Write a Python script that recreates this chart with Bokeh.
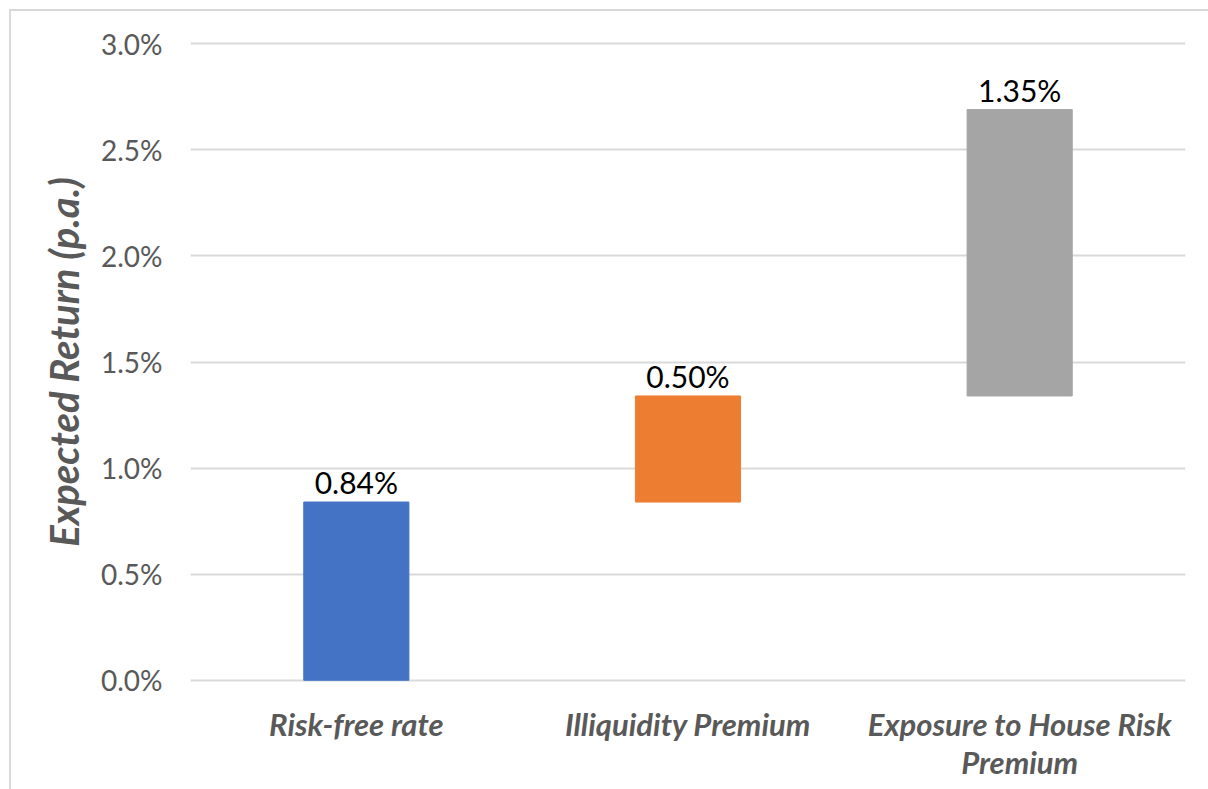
from bokeh.plotting import figure
from bokeh.models import ColumnDataSource, FactorRange, FixedTicker, PrintfTickFormatter
from bokeh.core.properties import value
from bokeh.embed import file_html
from bokeh.resources import INLINE
import numpy as np

# Components of the expected return (percent per annum)
categories = ["Risk-free rate", "Illiquidity Premium",
              "Exposure to House Risk\nPremium"]
values = [0.84, 0.50, 1.35]
labels = ["0.84%", "0.50%", "1.35%"]
colors = ["#4472C4", "#ED7D31", "#A5A5A5"]
y_ticks = [0.0, 0.5, 1.0, 1.5, 2.0, 2.5, 3.0]

# Floating (waterfall) bars: each starts where the previous one ends
tops = np.cumsum(values)
bottoms = tops - np.array(values)

source = ColumnDataSource(dict(cat=categories, bottom=bottoms, top=tops,
                               color=colors, label=labels))

FONT = "Lato"
GREY = "#595959"
BORDER = "#D9D9D9"

# a little room above 3.0% and below 0.0% so both gridlines are drawn fully
p = figure(x_range=FactorRange(*categories), y_range=(-0.02, 3.02),
           width=1208, height=789, output_backend="svg",
           toolbar_location=None, min_border_left=190, min_border_right=23,
           min_border_top=39, min_border_bottom=105)

p.vbar(x="cat", bottom="bottom", top="top", width=0.317, color="color",
       source=source)
p.text(x="cat", y="top", text="label", source=source, text_align="center",
       text_baseline="bottom", y_offset=-2, text_font=value(FONT),
       text_font_size="30px", text_color="#000000")

# Chart border along the left and top edges, painted behind a transparent canvas
p.border_fill_color = None
p.styles = {
    "background-color": "white",
    "background-image": f"linear-gradient({BORDER}, {BORDER}), "
                        f"linear-gradient({BORDER}, {BORDER})",
    "background-size": "2px 100%, 100% 2px",
    "background-position": "9px 9px, 9px 9px",
    "background-repeat": "no-repeat",
}

p.outline_line_color = None
p.background_fill_color = "white"

p.xgrid.grid_line_color = None
p.ygrid.grid_line_color = BORDER
p.ygrid.grid_line_width = 2
p.ygrid.ticker = FixedTicker(ticks=y_ticks)

p.yaxis.ticker = FixedTicker(ticks=y_ticks)
p.yaxis.formatter = PrintfTickFormatter(format="%.1f%%")
p.yaxis.axis_line_color = None
p.yaxis.major_tick_line_color = None
p.yaxis.minor_tick_line_color = None
p.yaxis.major_tick_out = 0
p.yaxis.major_label_standoff = 28
p.yaxis.major_label_text_font = FONT
p.yaxis.major_label_text_font_size = "28px"
p.yaxis.major_label_text_color = GREY
p.yaxis.axis_label = "Expected Return (p.a.)"
p.yaxis.axis_label_text_font = FONT
p.yaxis.axis_label_text_font_size = "40px"
p.yaxis.axis_label_text_font_style = "bold italic"
p.yaxis.axis_label_text_color = GREY
p.yaxis.axis_label_standoff = 10

p.xaxis.axis_line_color = None
p.xaxis.major_tick_line_color = None
p.xaxis.major_tick_out = 0
p.xaxis.major_label_standoff = 20
p.xaxis.major_label_text_font = FONT
p.xaxis.major_label_text_font_size = "31px"
p.xaxis.major_label_text_font_style = "bold italic"
p.xaxis.major_label_text_color = GREY
p.xaxis.major_label_text_line_height = 1.0

open("out.html", "w").write(file_html(p, INLINE))
